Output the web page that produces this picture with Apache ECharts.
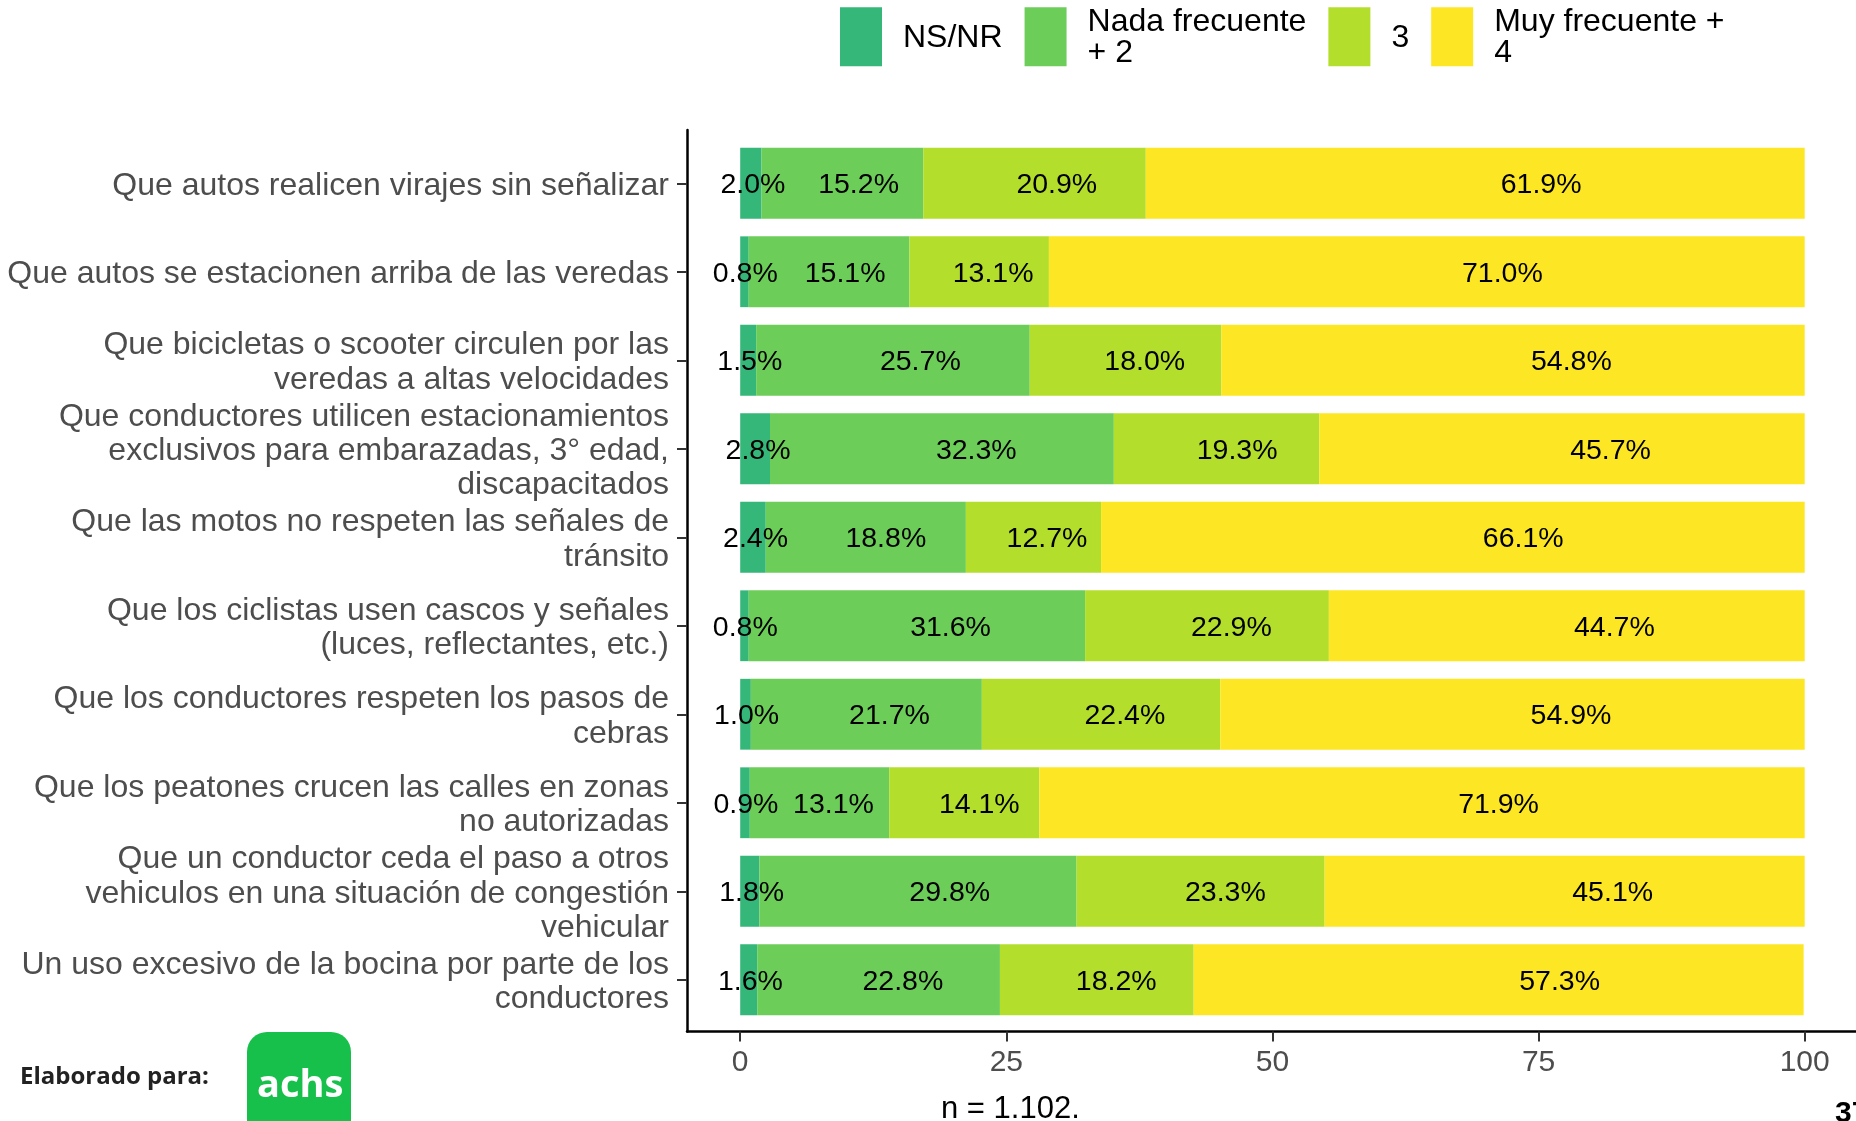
<!DOCTYPE html>
<html>
<head>
<meta charset="utf-8">
<title>Frecuencia de conductas</title>
<script src="https://cdn.jsdelivr.net/npm/echarts@6/dist/echarts.min.js"></script>
<style>
  html, body { margin: 0; padding: 0; background: #fff; }
  #chart { width: 1856px; height: 1121px; }
</style>
</head>
<body>
<div id="chart"></div>
<script>
const categories = [
  "Que autos realicen virajes sin señalizar",
  "Que autos se estacionen arriba de las veredas",
  "Que bicicletas o scooter circulen por las\nveredas a altas velocidades",
  "Que conductores utilicen estacionamientos\nexclusivos para embarazadas, 3° edad,\ndiscapacitados",
  "Que las motos no respeten las señales de\ntránsito",
  "Que los ciclistas usen cascos y señales\n(luces, reflectantes, etc.)",
  "Que los conductores respeten los pasos de\ncebras",
  "Que los peatones crucen las calles en zonas\nno autorizadas",
  "Que un conductor ceda el paso a otros\nvehiculos en una situación de congestión\nvehicular",
  "Un uso excesivo de la bocina por parte de los\nconductores",
];

const seriesNames = ["NS/NR", "Nada frecuente\n+ 2", "3", "Muy frecuente +\n4"];
const nsnr = [2.0, 0.8, 1.5, 2.8, 2.4, 0.8, 1.0, 0.9, 1.8, 1.6];
const nada = [15.2, 15.1, 25.7, 32.3, 18.8, 31.6, 21.7, 13.1, 29.8, 22.8];
const tres = [20.9, 13.1, 18.0, 19.3, 12.7, 22.9, 22.4, 14.1, 23.3, 18.2];
const muy = [61.9, 71.0, 54.8, 45.7, 66.1, 44.7, 54.9, 71.9, 45.1, 57.3];
const colors = ["#35B779", "#6DCD59", "#B4DE2C", "#FDE725"];

const xMin = 0;
const xMax = 100;
const xInterval = 25;

const FONT = "'Liberation Sans', Arial, Helvetica, sans-serif";

// panel geometry (ggplot-like: axis line sits left of 0, bands inset from frame)
const plotLeft = 740.2;
const plotWidth = 1064.5;
const axisGap = 53.2;

const makeSeries = (name, data, color) => ({
  name,
  type: "bar",
  stack: "total",
  xAxisIndex: 0,
  yAxisIndex: 0,
  barCategoryGap: "20%",
  data,
  itemStyle: { color },
  label: {
    show: true,
    // labels sit at 60% of each segment, as in the original
    position: ["60%", "50%"],
    offset: [0, 2],
    align: "center",
    verticalAlign: "middle",
    color: "#000",
    fontFamily: FONT,
    fontSize: 28.5,
    formatter: (p) => p.value.toFixed(1) + "%",
  },
});

const chart = echarts.init(document.getElementById("chart"), null, { renderer: "canvas" });

chart.setOption({
  animation: false,
  backgroundColor: "#fff",
  textStyle: { fontFamily: FONT },
  legend: {
    data: seriesNames,
    left: 840,
    top: 4,
    padding: 0,
    itemWidth: 42,
    itemHeight: 59,
    itemGap: 22,
    selectedMode: false,
    icon: "rect",
    // each line as a rich token so the text can sit a touch lower
    formatter: (name) => name.split("\n").map((l) => "{t|" + l + "}").join("\n"),
    textStyle: {
      fontFamily: FONT,
      fontSize: 32,
      color: "#000",
      padding: [0, 0, 0, 16],
      rich: {
        t: {
          fontFamily: FONT,
          fontSize: 32,
          lineHeight: 31.5,
          padding: [2, 0, 0, 0],
          color: "#000",
        },
      },
    },
  },
  grid: [
    // bars
    { left: plotLeft, width: plotWidth, top: 139, height: 885 },
    // panel frame for the axis lines
    { left: plotLeft - axisGap, right: 0, top: 130, height: 901.5 },
    // category labels, nudged down a little to sit like the original text
    { left: plotLeft, width: plotWidth, top: 141.5, height: 885 },
  ],
  xAxis: [
    {
      type: "value",
      gridIndex: 0,
      min: xMin,
      max: xMax,
      interval: xInterval,
      position: "bottom",
      offset: 7.5,
      axisLine: { show: false },
      axisTick: { show: true, length: 10, lineStyle: { color: "#333", width: 2 } },
      axisLabel: { fontFamily: FONT, fontSize: 30, color: "#4d4d4d", margin: 16.5 },
      splitLine: { show: false },
    },
    {
      type: "value",
      gridIndex: 1,
      min: 0,
      max: 1,
      axisLine: { show: true, onZero: false, lineStyle: { color: "#000", width: 2.5 } },
      axisTick: { show: false },
      axisLabel: { show: false },
      splitLine: { show: false },
    },
    {
      type: "value",
      gridIndex: 2,
      min: 0,
      max: 1,
      show: false,
    },
  ],
  yAxis: [
    {
      type: "category",
      gridIndex: 0,
      data: categories,
      inverse: true,
      offset: axisGap,
      axisLine: { show: false, onZero: false },
      axisTick: { show: true, alignWithLabel: true, interval: 0, length: 10, lineStyle: { color: "#333", width: 2 } },
      axisLabel: { show: false },
      splitLine: { show: false },
    },
    {
      type: "value",
      gridIndex: 1,
      min: 0,
      max: 1,
      axisLine: { show: true, onZero: false, lineStyle: { color: "#000", width: 2.5 } },
      axisTick: { show: false },
      axisLabel: { show: false },
      splitLine: { show: false },
    },
    {
      type: "category",
      gridIndex: 2,
      data: categories,
      inverse: true,
      offset: axisGap,
      axisLine: { show: false, onZero: false },
      axisTick: { show: false },
      axisLabel: {
        interval: 0,
        fontFamily: FONT,
        fontSize: 32,
        lineHeight: 34.3,
        color: "#4d4d4d",
        margin: 18,
        align: "right",
      },
      splitLine: { show: false },
    },
  ],
  series: [
    makeSeries(seriesNames[0], nsnr, colors[0]),
    makeSeries(seriesNames[1], nada, colors[1]),
    makeSeries(seriesNames[2], tres, colors[2]),
    makeSeries(seriesNames[3], muy, colors[3]),
  ],
  graphic: [
    {
      type: "text",
      left: 941,
      top: 1094,
      style: { text: "n = 1.102.", font: "31px " + FONT, fill: "#000" },
    },
    {
      type: "text",
      left: 1835,
      top: 1099,
      style: { text: "37", font: "bold 30px " + FONT, fill: "#000" },
    },
    {
      type: "text",
      left: 20,
      top: 1065.5,
      style: { text: "Elaborado para:", font: "bold 24px 'Open Sans', sans-serif", fill: "#222" },
    },
    {
      type: "rect",
      left: 247,
      top: 1032,
      shape: { width: 104, height: 110, r: 20 },
      style: { fill: "#16C04A" },
    },
    {
      type: "text",
      left: 257,
      top: 1067,
      style: { text: "achs", font: "bold 38px 'Open Sans', sans-serif", fill: "#fff" },
    },
  ],
});
</script>
</body>
</html>
